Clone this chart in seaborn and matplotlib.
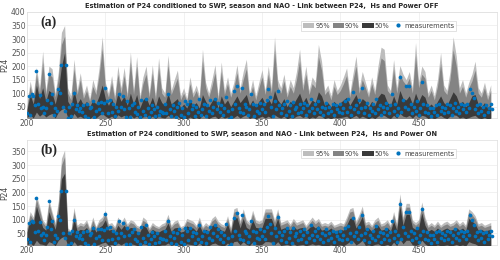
import numpy as np
import matplotlib
matplotlib.use("Agg")
import matplotlib.pyplot as plt
import seaborn as sns
import pandas as pd
from matplotlib.patches import Patch
from matplotlib.lines import Line2D

# ---------------- data ----------------
meas_x = list(range(200, 498))
measurements = [
    28, 88, 18, 95, 90, 55, 180, 60, 92, 45,
    50, 25, 45, 75, 170, 65, 97, 20, 45, 35,
    115, 100, 205, 50, 35, 205, 8, 50, 15, 60,
    100, 40, 55, 35, 45, 30, 55, 15, 60, 8,
    45, 50, 70, 12, 35, 65, 40, 68, 25, 62,
    120, 70, 25, 75, 30, 60, 15, 50, 35, 95,
    50, 88, 40, 10, 70, 45, 12, 55, 65, 30,
    22, 50, 10, 75, 35, 20, 80, 45, 10, 30,
    55, 40, 15, 50, 20, 35, 30, 28, 60, 25,
    95, 40, 15, 55, 35, 12, 50, 65, 20, 45,
    10, 70, 60, 25, 70, 40, 55, 15, 50, 30,
    80, 20, 40, 60, 15, 55, 35, 75, 25, 50,
    80, 40, 65, 30, 55, 20, 45, 85, 35, 5,
    10, 40, 108, 60, 125, 45, 30, 118, 25, 60,
    50, 20, 40, 95, 60, 15, 55, 35, 28, 65,
    40, 60, 30, 75, 115, 85, 50, 15, 70, 40,
    109, 55, 25, 45, 60, 20, 70, 35, 55, 15,
    69, 40, 50, 25, 60, 30, 45, 65, 20, 55,
    35, 79, 45, 25, 60, 40, 70, 30, 50, 20,
    45, 65, 25, 50, 35, 60, 20, 55, 40, 30,
    60, 25, 45, 70, 30, 78, 50, 20, 106, 40,
    55, 30, 75, 45, 118, 25, 50, 65, 20, 45,
    35, 60, 25, 78, 40, 55, 20, 50, 30, 65,
    45, 25, 55, 97, 35, 60, 20, 45, 158, 30,
    75, 50, 127, 40, 127, 60, 25, 50, 35, 70,
    20, 45, 141, 60, 30, 55, 25, 45, 15, 44,
    30, 55, 20, 60, 35, 50, 25, 45, 60, 30,
    55, 20, 45, 65, 35, 50, 25, 60, 40, 55,
    30, 60, 45, 116, 100, 81, 40, 55, 25, 60,
    35, 50, 20, 55, 30, 45, 60, 40,
]

band_x = list(range(200, 498, 2))

# panel (a): Power OFF
a_up95 = [
    60, 145, 90, 195, 120, 255, 110, 200, 190, 100,
    180, 325, 350, 120, 90, 225, 110, 175, 95, 130,
    80, 150, 110, 193, 309, 140, 100, 165, 90, 200,
    120, 195, 100, 252, 110, 235, 90, 160, 200, 100,
    205, 90, 230, 120, 100, 240, 110, 150, 185, 90,
    120, 80, 160, 100, 130, 90, 262, 140, 100, 150,
    205, 90, 215, 110, 160, 100, 140, 205, 120, 180,
    225, 100, 150, 90, 140, 187, 110, 200, 120, 308,
    150, 120, 170, 100, 150, 120, 180, 262, 130, 200,
    110, 160, 140, 280, 218, 110, 130, 90, 150, 110,
    130, 160, 193, 100, 170, 237, 120, 180, 140, 100,
    160, 110, 200, 270, 262, 130, 110, 224, 120, 202,
    170, 150, 180, 120, 287, 140, 200, 180, 100, 130,
    90, 150, 250, 130, 110, 180, 308, 237, 120, 150,
    100, 140, 170, 218, 120, 100, 140, 90, 131,
]
a_up90 = [
    50, 125, 75, 170, 100, 215, 95, 170, 160, 85,
    155, 280, 310, 100, 75, 190, 95, 150, 80, 110,
    70, 125, 95, 165, 265, 120, 85, 140, 75, 170,
    100, 165, 85, 215, 95, 200, 75, 135, 170, 85,
    175, 75, 195, 100, 85, 205, 95, 125, 155, 75,
    100, 70, 135, 85, 110, 75, 220, 120, 85, 125,
    175, 75, 180, 95, 135, 85, 120, 175, 100, 150,
    190, 85, 125, 75, 120, 160, 95, 170, 100, 260,
    125, 100, 145, 85, 125, 100, 150, 220, 110, 170,
    95, 135, 120, 235, 185, 95, 110, 75, 125, 95,
    110, 135, 165, 85, 145, 200, 100, 150, 120, 85,
    135, 95, 170, 230, 220, 110, 95, 190, 100, 170,
    145, 130, 155, 100, 240, 120, 170, 155, 85, 110,
    75, 125, 210, 110, 95, 150, 260, 200, 100, 125,
    85, 120, 145, 185, 100, 85, 120, 75, 110,
]
a_up50 = [
    40, 95, 60, 130, 80, 120, 70, 110, 100, 60,
    110, 200, 250, 70, 50, 110, 60, 80, 55, 70,
    50, 75, 60, 90, 130, 80, 55, 80, 50, 100,
    70, 90, 55, 100, 60, 95, 45, 75, 85, 55,
    85, 50, 90, 65, 55, 100, 60, 70, 80, 45,
    60, 45, 75, 55, 65, 45, 95, 70, 50, 70,
    85, 45, 90, 60, 75, 50, 70, 90, 65, 80,
    95, 55, 75, 50, 70, 85, 60, 80, 60, 110,
    75, 60, 80, 50, 70, 60, 80, 100, 65, 85,
    55, 75, 65, 105, 90, 55, 65, 50, 70, 55,
    65, 75, 85, 55, 75, 95, 60, 80, 70, 50,
    70, 55, 85, 100, 95, 65, 55, 90, 60, 110,
    80, 75, 90, 60, 100, 70, 95, 85, 50, 60,
    45, 70, 90, 65, 55, 80, 105, 90, 60, 70,
    50, 65, 90, 95, 60, 50, 65, 45, 60,
]
a_lo50 = [
    10, 20, 8, 30, 15, 25, 12, 20, 25, 8,
    30, 40, 45, 10, 5, 25, 10, 15, 8, 12,
    5, 15, 8, 18, 25, 15, 8, 15, 6, 20,
    12, 18, 5, 20, 8, 15, 5, 12, 15, 6,
    15, 6, 15, 10, 8, 18, 10, 12, 15, 5,
    8, 5, 12, 6, 10, 5, 18, 12, 6, 12,
    15, 5, 15, 8, 12, 5, 10, 18, 8, 15,
    20, 6, 12, 5, 10, 15, 8, 15, 8, 20,
    12, 8, 15, 5, 10, 8, 15, 18, 10, 15,
    6, 12, 8, 18, 15, 6, 10, 5, 12, 8,
    10, 12, 15, 6, 12, 18, 8, 15, 10, 5,
    12, 6, 15, 20, 18, 10, 6, 18, 8, 25,
    15, 12, 18, 8, 20, 10, 18, 15, 6, 10,
    5, 12, 18, 10, 6, 15, 20, 18, 8, 12,
    6, 10, 15, 18, 8, 6, 10, 5, 8,
]

# panel (b): Power ON
b_up95 = [
    75, 130, 110, 190, 150, 100, 85, 175, 130, 90,
    170, 325, 355, 70, 60, 145, 80, 90, 85, 100,
    70, 110, 75, 100, 110, 135, 85, 90, 75, 110,
    90, 110, 85, 100, 95, 80, 75, 110, 100, 70,
    90, 80, 75, 85, 90, 120, 80, 95, 100, 75,
    80, 105, 100, 95, 80, 110, 75, 90, 80, 105,
    115, 95, 85, 80, 115, 70, 140, 145, 95, 140,
    100, 90, 135, 100, 95, 100, 140, 140, 140, 100,
    140, 90, 95, 100, 85, 105, 90, 95, 100, 80,
    95, 110, 95, 105, 85, 90, 85, 95, 80, 85,
    90, 85, 110, 140, 145, 95, 120, 150, 90, 95,
    80, 100, 110, 85, 90, 100, 80, 130, 85, 195,
    110, 160, 160, 100, 90, 100, 165, 110, 80, 90,
    80, 95, 80, 90, 95, 85, 90, 100, 85, 95,
    80, 140, 130, 115, 85, 90, 80, 85, 90,
]
b_up90 = [
    68, 118, 100, 175, 135, 90, 76, 160, 118, 80,
    155, 300, 330, 62, 54, 130, 72, 80, 76, 90,
    62, 98, 68, 90, 98, 122, 76, 80, 68, 98,
    80, 98, 76, 90, 85, 72, 68, 98, 90, 62,
    80, 72, 68, 76, 80, 108, 72, 85, 90, 68,
    72, 95, 90, 85, 72, 98, 68, 80, 72, 95,
    104, 85, 76, 72, 104, 62, 128, 132, 85, 128,
    90, 80, 122, 90, 85, 90, 128, 128, 128, 90,
    128, 80, 85, 90, 76, 95, 80, 85, 90, 72,
    85, 98, 85, 95, 76, 80, 76, 85, 72, 76,
    80, 76, 98, 128, 132, 85, 108, 136, 80, 85,
    72, 90, 98, 76, 80, 90, 72, 118, 76, 180,
    98, 146, 146, 90, 80, 90, 150, 98, 72, 80,
    72, 85, 72, 80, 85, 76, 80, 90, 76, 85,
    72, 128, 118, 104, 76, 80, 72, 76, 80,
]
b_up50 = [
    55, 100, 85, 150, 110, 72, 62, 130, 95, 65,
    125, 250, 270, 50, 44, 105, 58, 65, 62, 72,
    50, 80, 55, 72, 80, 100, 62, 65, 55, 80,
    65, 80, 62, 72, 70, 58, 55, 80, 72, 50,
    65, 58, 55, 62, 65, 88, 58, 70, 72, 55,
    58, 78, 72, 70, 58, 80, 55, 65, 58, 78,
    85, 70, 62, 58, 85, 50, 105, 108, 70, 105,
    72, 65, 100, 72, 70, 72, 105, 105, 105, 72,
    105, 65, 70, 72, 62, 78, 65, 70, 72, 58,
    70, 80, 70, 78, 62, 65, 62, 70, 58, 62,
    65, 62, 80, 105, 108, 70, 88, 112, 65, 70,
    58, 72, 80, 62, 65, 72, 58, 95, 62, 150,
    80, 120, 120, 72, 65, 72, 125, 80, 58, 65,
    58, 70, 58, 65, 70, 62, 65, 72, 62, 70,
    58, 105, 95, 85, 62, 65, 58, 62, 65,
]
b_lo50 = [
    8, 15, 6, 25, 12, 10, 6, 20, 15, 5,
    25, 35, 40, 5, 3, 20, 6, 10, 6, 10,
    4, 12, 6, 10, 15, 18, 6, 10, 5, 15,
    8, 15, 5, 12, 10, 6, 4, 12, 10, 4,
    8, 5, 5, 8, 8, 15, 6, 10, 12, 5,
    6, 12, 10, 8, 5, 15, 4, 8, 5, 12,
    15, 8, 6, 5, 15, 3, 20, 22, 8, 20,
    10, 6, 18, 10, 8, 10, 20, 20, 18, 8,
    20, 6, 8, 10, 6, 12, 6, 8, 10, 5,
    8, 12, 8, 10, 6, 6, 5, 8, 4, 6,
    8, 5, 12, 20, 22, 8, 15, 25, 6, 8,
    5, 10, 12, 6, 6, 10, 4, 18, 5, 30,
    12, 25, 25, 8, 6, 10, 25, 12, 4, 6,
    4, 8, 5, 6, 8, 5, 6, 10, 5, 8,
    4, 20, 15, 12, 5, 6, 4, 5, 6,
]

titles = [
    "Estimation of P24 conditioned to SWP, season and NAO - Link between P24,  Hs and Power OFF",
    "Estimation of P24 conditioned to SWP, season and NAO - Link between P24,  Hs and Power ON",
]
panel_labels = ["(a)", "(b)"]
legend_labels = ["95%", "90%", "50%", "measurements"]
x_ticks = [200, 250, 300, 350, 400, 450]
y_ticks_a = [50, 100, 150, 200, 250, 300, 350, 400]
y_ticks_b = [50, 100, 150, 200, 250, 300, 350]

# ---------------- style ----------------
sns.set_theme(style="whitegrid")
plt.rcParams["font.family"] = ["DejaVu Sans"]

c95, c90, c50 = "#bdbdbd", "#848484", "#3a3a3a"
cmeas = "#0072BD"

fig = plt.figure(figsize=(5.0, 2.6), dpi=100)
ax_a = fig.add_axes([0.054, 0.546, 0.940, 0.408])
ax_b = fig.add_axes([0.054, 0.058, 0.940, 0.404])

bx = np.array(band_x)
panels = [
    (ax_a, a_up95, a_up90, a_up50, a_lo50, (8, 400), y_ticks_a),
    (ax_b, b_up95, b_up90, b_up50, b_lo50, (8, 392), y_ticks_b),
]
meas_df = pd.DataFrame({"x": meas_x, "P24": measurements})

for i, (ax, u95, u90, u50, l50, ylim, yt) in enumerate(panels):
    ax.fill_between(bx, 0, u95, color=c95, lw=0, zorder=2)
    ax.fill_between(bx, 0, u90, color=c90, lw=0, zorder=3)
    ax.fill_between(bx, l50, u50, color=c50, lw=0, zorder=4)
    sns.scatterplot(data=meas_df, x="x", y="P24", ax=ax, color=cmeas, s=7,
                    linewidth=0, zorder=5, legend=False)
    ax.set_xlim(200, 500)
    ax.set_ylim(*ylim)
    ax.set_xticks(x_ticks)
    ax.set_yticks(yt)
    ax.tick_params(axis="both", labelsize=5.5, colors="#555555", pad=1, length=0)
    ax.set_xlabel("")
    ax.set_ylabel("P24", fontsize=5.5, color="#444444", labelpad=1)
    ax.grid(True, color="#ebebeb", lw=0.5)
    for sp in ax.spines.values():
        sp.set_color("#dddddd")
        sp.set_linewidth(0.5)
    ax.set_title(titles[i], fontsize=4.8, fontweight="bold", pad=2.5)
    ax.text(0.028, 0.9, panel_labels[i], transform=ax.transAxes,
            fontsize=10, fontweight="bold", family=["Liberation Serif", "DejaVu Serif"],
            va="center", ha="left", zorder=10)
    handles = [
        Patch(facecolor=c95, edgecolor="none"),
        Patch(facecolor=c90, edgecolor="none"),
        Patch(facecolor=c50, edgecolor="none"),
        Line2D([], [], marker="o", color=cmeas, lw=0, markersize=2),
    ]
    leg = ax.legend(handles, legend_labels, loc="upper right",
                    bbox_to_anchor=(0.92, 0.945), ncol=4, fontsize=4.8,
                    frameon=True, fancybox=False, borderpad=0.25,
                    handlelength=1.7, handleheight=0.9, handletextpad=0.15,
                    columnspacing=0.4, labelspacing=0.2)
    leg.get_frame().set_edgecolor("#cccccc")
    leg.get_frame().set_linewidth(0.5)
    for t in leg.get_texts():
        t.set_color("#444444")

fig.savefig("out.png", dpi=100)
